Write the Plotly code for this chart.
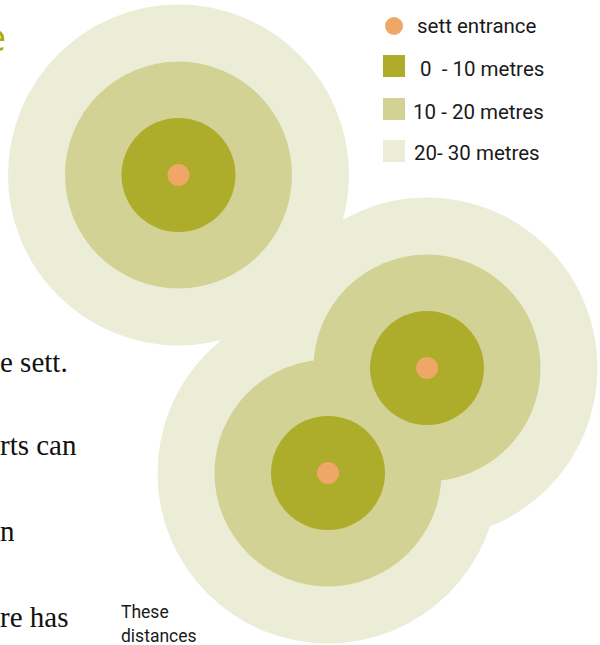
import plotly.graph_objects as go

sett_x = [178.5, 427, 328]
sett_y = [175, 368, 473]
bands = ["20 - 30 metres", "10 - 20 metres", "0 - 10 metres", "sett entrance"]
band_colors = ["#ecedd6", "#d3d295", "#aeac2b", "#efa768"]
band_sizes = [341, 227, 114, 22]

legend_labels = ["sett entrance", "0  - 10 metres", "10 - 20 metres", "20- 30 metres"]
legend_colors = ["#efa768", "#aeac2b", "#d3d295", "#ecedd6"]
legend_symbols = ["circle", "square", "square", "square"]
legend_sizes = [18, 22, 22, 22]
legend_x = [394, 394, 394, 394]
legend_y = [26, 66, 109, 151]
legend_text_x = [417, 420, 413, 414]
legend_text_y = [28, 71, 114, 155]

body_text = ["e sett.", "rts can", "n", "re has"]
body_x = [0, 0, 0, 0]
body_y = [365, 448, 534, 620]

note_text = ["These", "distances"]
note_x = [121, 121]
note_y = [614, 638]

fig = go.Figure()
for name, color, size in zip(bands, band_colors, band_sizes):
    fig.add_trace(go.Scatter(x=sett_x, y=sett_y, mode="markers", name=name,
                             marker=dict(color=color, size=size, opacity=1, line=dict(width=0)),
                             cliponaxis=False, hoverinfo="skip"))
fig.add_trace(go.Scatter(x=legend_x, y=legend_y, mode="markers",
                         marker=dict(color=legend_colors, symbol=legend_symbols, opacity=1,
                                     size=legend_sizes, line=dict(width=0)),
                         cliponaxis=False, hoverinfo="skip"))
fig.add_trace(go.Scatter(x=legend_text_x, y=legend_text_y, mode="text", text=legend_labels,
                         textposition="middle right",
                         textfont=dict(family="Roboto", size=20.5, color="#1a1a1a"),
                         cliponaxis=False, hoverinfo="skip"))
fig.add_trace(go.Scatter(x=body_x, y=body_y, mode="text", text=body_text,
                         textposition="middle right",
                         textfont=dict(family="Liberation Serif", size=29, color="#111111"),
                         cliponaxis=False, hoverinfo="skip"))
fig.add_trace(go.Scatter(x=note_x, y=note_y, mode="text", text=note_text,
                         textposition="middle right",
                         textfont=dict(family="Roboto", size=17.5, color="#1a1a1a"),
                         cliponaxis=False, hoverinfo="skip"))
fig.add_trace(go.Scatter(x=[6], y=[41], mode="text", text=["e"],
                         textposition="middle left",
                         textfont=dict(family="Open Sans", size=38, color="#aeac00"),
                         cliponaxis=False, hoverinfo="skip"))

fig.update_layout(width=600, height=645, margin=dict(l=0, r=0, t=0, b=0),
                  paper_bgcolor="white", plot_bgcolor="white", showlegend=False)
fig.update_xaxes(range=[0, 600], visible=False)
fig.update_yaxes(range=[645, 0], visible=False)
fig.write_html("out.html", config={"displayModeBar": False},
               post_script="document.body.style.margin='0';document.documentElement.style.overflow='hidden';")
